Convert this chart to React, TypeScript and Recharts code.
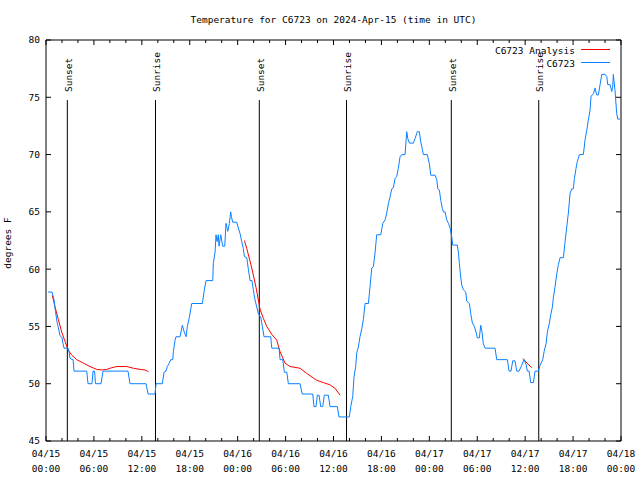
import React from 'react';
import { LineChart, Line, XAxis, YAxis, ReferenceLine, Customized } from 'recharts';

// Observed temperature (hours since 04/15 00:00 UTC, degrees F)
const obsHours = [
  0.26, 0.76, 1.01, 1.19, 1.38, 1.51, 1.76, 2.01, 2.13, 2.26, 2.76, 2.88, 3.01, 3.39, 3.51, 5.1, 5.26, 5.76, 5.89, 6.08,
  6.2, 6.89, 7.14, 10.27, 10.52, 12.53, 12.78, 13.65, 13.78, 14.57, 14.78, 15.03, 15.19, 15.44, 15.62, 15.87, 15.95, 16.16, 16.28, 16.78,
  17.07, 17.32, 17.54, 17.7, 17.95, 18.25, 19.58, 19.83, 20.04, 20.88, 20.95, 21.17, 21.29, 21.42, 21.58, 21.67, 21.88, 22.13, 22.38, 22.54,
  22.76, 22.96, 23.13, 23.21, 23.38, 23.88, 24.08, 24.3, 24.51, 24.71, 24.84, 25.14, 25.34, 25.55, 25.8, 25.96, 26.18, 26.39, 26.59, 26.89,
  27.09, 27.3, 28.14, 28.27, 29.18, 29.31, 29.64, 29.85, 30.15, 30.35, 31.81, 32.08, 33.4, 33.56, 33.81, 33.98, 34.19, 34.4, 34.65, 34.85,
  35.35, 35.57, 36.48, 36.69, 37.98, 38.16, 38.41, 38.57, 38.78, 38.91, 39.11, 39.32, 39.54, 39.74, 39.95, 40.37, 40.58, 40.79, 40.99, 41.2,
  41.41, 41.92, 42.17, 42.46, 42.67, 42.87, 43.08, 43.29, 43.49, 43.71, 43.92, 44.12, 44.33, 44.55, 44.96, 45.17, 45.3, 45.5, 46.0, 46.21,
  46.5, 46.75, 46.93, 47.05, 47.25, 47.75, 48.0, 48.18, 48.72, 48.93, 49.06, 49.26, 49.43, 49.63, 49.76, 49.97, 50.18, 50.39, 50.6, 50.81,
  50.93, 51.51, 51.63, 51.76, 51.93, 52.06, 52.26, 52.56, 52.69, 53.01, 53.19, 53.39, 53.64, 53.85, 54.01, 54.26, 54.44, 54.6, 54.76, 54.98,
  56.23, 56.44, 57.77, 57.98, 58.23, 58.44, 58.73, 58.94, 59.23, 59.57, 59.86, 60.11, 60.27, 60.49, 60.7, 61.03, 61.24, 61.65, 61.86, 62.2,
  62.37, 62.62, 62.78, 63.03, 63.2, 63.41, 63.53, 63.75, 63.96, 64.16, 64.37, 64.78, 65.0, 65.21, 65.41, 65.62, 65.83, 66.03, 66.16, 66.37,
  66.53, 66.79, 67.29, 67.5, 67.71, 67.91, 68.13, 68.25, 68.54, 68.75, 68.96, 69.16, 69.38, 69.59, 70.0, 70.22, 70.34, 70.63, 70.84, 70.96,
  71.04, 71.25, 71.46, 71.59, 71.88,
];
const obsTempF = [
  58, 58, 57.3, 56.3, 55.4, 55, 54.2, 54, 53.5, 53.1, 53.1, 52.8, 52.2, 52.1, 51.1, 51.1, 50, 50, 51.1, 51.1,
  50, 50, 51.1, 51.1, 50, 50, 49.1, 49.1, 50, 50, 51, 51.1, 51.5, 51.8, 52.1, 52.1, 52.8, 53.8, 54.1, 54.1,
  55.1, 54.5, 54.1, 55, 55.8, 57, 57, 58.2, 59, 59, 60.5, 61.5, 63, 62.4, 63, 62, 63, 62, 62, 64,
  63.3, 64, 65, 64.6, 64.1, 64.1, 63.6, 63.1, 62.4, 61.8, 61.1, 61, 60, 59, 59, 58.2, 57.3, 56.7, 56.1, 55.8,
  55, 54.1, 54.1, 53.1, 53.1, 52.1, 52.1, 51, 51, 50, 50, 49.1, 49.1, 48, 48, 49, 49, 48, 48, 49,
  49, 48, 48, 47.1, 47.1, 48, 48.9, 50.6, 51.5, 52.7, 53.2, 54.1, 54.8, 55.6, 57, 57, 58.5, 60.1, 60.2, 61.4,
  63, 63, 64, 64.3, 64.9, 65.7, 66.3, 67, 67.1, 67.9, 68.1, 68.8, 69.8, 70, 70, 72, 71.4, 71, 71, 71.4,
  72, 72, 71.1, 70.7, 70, 70, 69.2, 68.2, 68.2, 67.8, 67, 66.9, 66, 65.3, 65, 65, 64.3, 64, 63.6, 62.8,
  62.1, 62.1, 61.5, 60.5, 59.3, 58.6, 58.2, 58, 57.2, 57, 56.1, 55.3, 55, 54.5, 54, 54, 55.1, 54.5, 53.5, 53.1,
  53.1, 52.1, 52.1, 51.1, 51.1, 52, 52, 51.1, 51.1, 51.6, 52.1, 51.7, 51.1, 51.1, 50.1, 50.1, 51.1, 51.1, 51.6, 52.1,
  52.8, 53.5, 54.5, 55.3, 56, 56.7, 57.5, 58.5, 59.6, 60.4, 61, 61, 62.4, 63.7, 64.9, 66.6, 67, 67, 67.9, 68.8,
  69.4, 70, 70, 71.3, 72.1, 73, 73.9, 75.1, 75.3, 75.8, 75.2, 75.2, 76.1, 77, 77, 76.8, 76.1, 76.1, 75.5, 75.9,
  77, 75.6, 73.6, 73.1, 73.1,
];

// Analysis (null marks a gap between segments)
const analysisHours = [
  0.79, 1.13, 1.55, 1.97, 2.38, 2.8, 3.22, 3.85, 4.68, 5.51, 6.35, 6.98, 7.61, 8.23, 8.86, 10.11, 10.94, 11.78, 12.4, 12.82,
  18.0,
  24.84, 25.14, 25.55, 25.96, 26.3, 26.59, 26.8, 27.22, 27.64, 28.27, 28.89, 29.31, 29.93, 30.56, 31.81, 32.65, 33.9, 34.73, 35.57, 36.19, 36.82,
  48.0,
  59.73, 60.23, 60.83,
];
const analysisTempF: (number | null)[] = [
  57.7, 56.7, 55.6, 54.5, 53.7, 52.9, 52.5, 52.1, 51.8, 51.5, 51.25, 51.2, 51.25, 51.4, 51.5, 51.5, 51.35, 51.25, 51.2, 51.05,
  null,
  62.5, 61.8, 60.7, 59.5, 58.4, 57.3, 56.5, 55.7, 55, 54.3, 53.8, 52.8, 51.8, 51.5, 51.35, 50.9, 50.3, 50.1, 49.9, 49.6, 49.0,
  null,
  52.2, 51.8, 51.4,
];

const eventHours = [2.67, 13.71, 26.71, 37.63, 50.75, 61.7];
const eventNames = ['Sunset', 'Sunrise', 'Sunset', 'Sunrise', 'Sunset', 'Sunrise'];
const eventLineTopF = 74.76;

const xTickHours = [0, 6, 12, 18, 24, 30, 36, 42, 48, 54, 60, 66, 72];
const xMinorHours = [0, 2, 4, 6, 8, 10, 12, 14, 16, 18, 20, 22, 24, 26, 28, 30, 32, 34, 36, 38, 40, 42, 44, 46, 48, 50, 52, 54, 56, 58, 60, 62, 64, 66, 68, 70, 72];
const xTickDates = ['04/15', '04/15', '04/15', '04/15', '04/16', '04/16', '04/16', '04/16', '04/17', '04/17', '04/17', '04/17', '04/18'];
const xTickTimes = ['00:00', '06:00', '12:00', '18:00', '00:00', '06:00', '12:00', '18:00', '00:00', '06:00', '12:00', '18:00', '00:00'];
const yTicks = [45, 50, 55, 60, 65, 70, 75, 80];

const titleText = 'Temperature for C6723 on 2024-Apr-15 (time in UTC)';
const yLabelText = 'degrees F';
const seriesNames = ['C6723 Analysis', 'C6723'];

const obsData = obsHours.map((t, i) => ({ t, v: obsTempF[i] }));
const anaData = analysisHours.map((t, i) => ({ t, v: analysisTempF[i] }));

const FONT = 'DejaVu Sans Mono';
const FS = 9.5;
const BLUE = '#0a80ff';
const RED = '#ff0000';

const BottomTick = (props: any) => {
  const { x, y, payload } = props;
  const v = payload.value;
  const idx = xTickHours.indexOf(v);
  const major = idx >= 0;
  return (
    <g>
      <line x1={x} x2={x} y1={y} y2={y - (major ? 5 : 3)} stroke="#000" strokeWidth={1} />
      {major && (
        <text x={x} y={y + 16} textAnchor="middle" fontFamily={FONT} fontSize={FS} fill="#000">
          <tspan x={x}>{xTickDates[idx]}</tspan>
          <tspan x={x} dy={15}>{xTickTimes[idx]}</tspan>
        </text>
      )}
    </g>
  );
};

const TopTick = (props: any) => {
  const { x, y, payload } = props;
  const major = xTickHours.indexOf(payload.value) >= 0;
  return <line x1={x} x2={x} y1={y} y2={y + (major ? 5 : 3)} stroke="#000" strokeWidth={1} />;
};

const LeftTick = (props: any) => {
  const { x, y, payload } = props;
  return (
    <g>
      <line x1={x} x2={x + 5} y1={y} y2={y} stroke="#000" strokeWidth={1} />
      <text x={x - 6} y={y} dy="0.36em" textAnchor="end" fontFamily={FONT} fontSize={FS} fill="#000">
        {payload.value}
      </text>
    </g>
  );
};

const RightTick = (props: any) => {
  const { x, y } = props;
  return <line x1={x} x2={x - 5} y1={y} y2={y} stroke="#000" strokeWidth={1} />;
};

const EventLabel = (props: any) => {
  const vb = props.viewBox || {};
  const x = (vb.x ?? 0) + 4.5;
  const y = (vb.y ?? 0) - 8;
  return (
    <text
      x={x}
      y={y}
      transform={`rotate(-90 ${x} ${y})`}
      textAnchor="start"
      fontFamily={FONT}
      fontSize={FS}
      fill="#000"
    >
      {props.text}
    </text>
  );
};

const Overlay = () => (
  <g>
    <text x={333.5} y={22.5} textAnchor="middle" fontFamily={FONT} fontSize={FS} fill="#000">
      {titleText}
    </text>
    <text
      x={11}
      y={243}
      transform="rotate(-90 11 243)"
      textAnchor="middle"
      fontFamily={FONT}
      fontSize={FS}
      fill="#000"
    >
      {yLabelText}
    </text>
    <text x={575} y={53.5} textAnchor="end" fontFamily={FONT} fontSize={FS} fill="#000">
      {seriesNames[0]}
    </text>
    <line x1={581} x2={610} y1={49.5} y2={49.5} stroke={RED} strokeWidth={1} />
    <text x={575} y={66.5} textAnchor="end" fontFamily={FONT} fontSize={FS} fill="#000">
      {seriesNames[1]}
    </text>
    <line x1={581} x2={610} y1={62.5} y2={62.5} stroke={BLUE} strokeWidth={1} />
  </g>
);

export default function App() {
  return (
    <div style={{ position: 'absolute', left: 0, top: 0, width: 640, height: 480, background: '#fff' }}>
      <LineChart width={640} height={480} margin={{ top: 39, right: 18, bottom: 1, left: 1 }}>
        <XAxis
          xAxisId="b"
          type="number"
          dataKey="t"
          domain={[0, 72]}
          ticks={xMinorHours}
          interval={0}
          orientation="bottom"
          height={38}
          tickSize={0}
          tickMargin={0}
          tickLine={false}
          axisLine={{ stroke: '#000' }}
          tick={BottomTick}
          allowDataOverflow
        />
        <XAxis
          xAxisId="t"
          type="number"
          dataKey="t"
          domain={[0, 72]}
          ticks={xMinorHours}
          interval={0}
          orientation="top"
          height={1}
          tickSize={0}
          tickMargin={0}
          tickLine={false}
          axisLine={{ stroke: '#000' }}
          tick={TopTick}
          allowDataOverflow
        />
        <YAxis
          yAxisId="l"
          type="number"
          domain={[45, 80]}
          ticks={yTicks}
          interval={0}
          orientation="left"
          width={45}
          tickSize={0}
          tickMargin={0}
          tickLine={false}
          axisLine={{ stroke: '#000' }}
          tick={LeftTick}
          allowDataOverflow
        />
        <YAxis
          yAxisId="r"
          type="number"
          domain={[45, 80]}
          ticks={yTicks}
          interval={0}
          orientation="right"
          width={1}
          tickSize={0}
          tickMargin={0}
          tickLine={false}
          axisLine={{ stroke: '#000' }}
          tick={RightTick}
          allowDataOverflow
        />
        {eventHours.map((h, i) => (
          <ReferenceLine
            key={i}
            xAxisId="b"
            yAxisId="l"
            segment={[
              { x: h, y: 45 },
              { x: h, y: eventLineTopF },
            ]}
            stroke="#000"
            strokeWidth={1}
            label={<EventLabel text={eventNames[i]} />}
          />
        ))}
        <Line
          xAxisId="b"
          yAxisId="l"
          data={anaData}
          dataKey="v"
          type="linear"
          stroke={RED}
          strokeWidth={1}
          dot={false}
          activeDot={false}
          isAnimationActive={false}
        />
        <Line
          xAxisId="b"
          yAxisId="l"
          data={obsData}
          dataKey="v"
          type="linear"
          stroke={BLUE}
          strokeWidth={1}
          dot={false}
          activeDot={false}
          isAnimationActive={false}
        />
        <Customized component={Overlay} />
      </LineChart>
    </div>
  );
}
